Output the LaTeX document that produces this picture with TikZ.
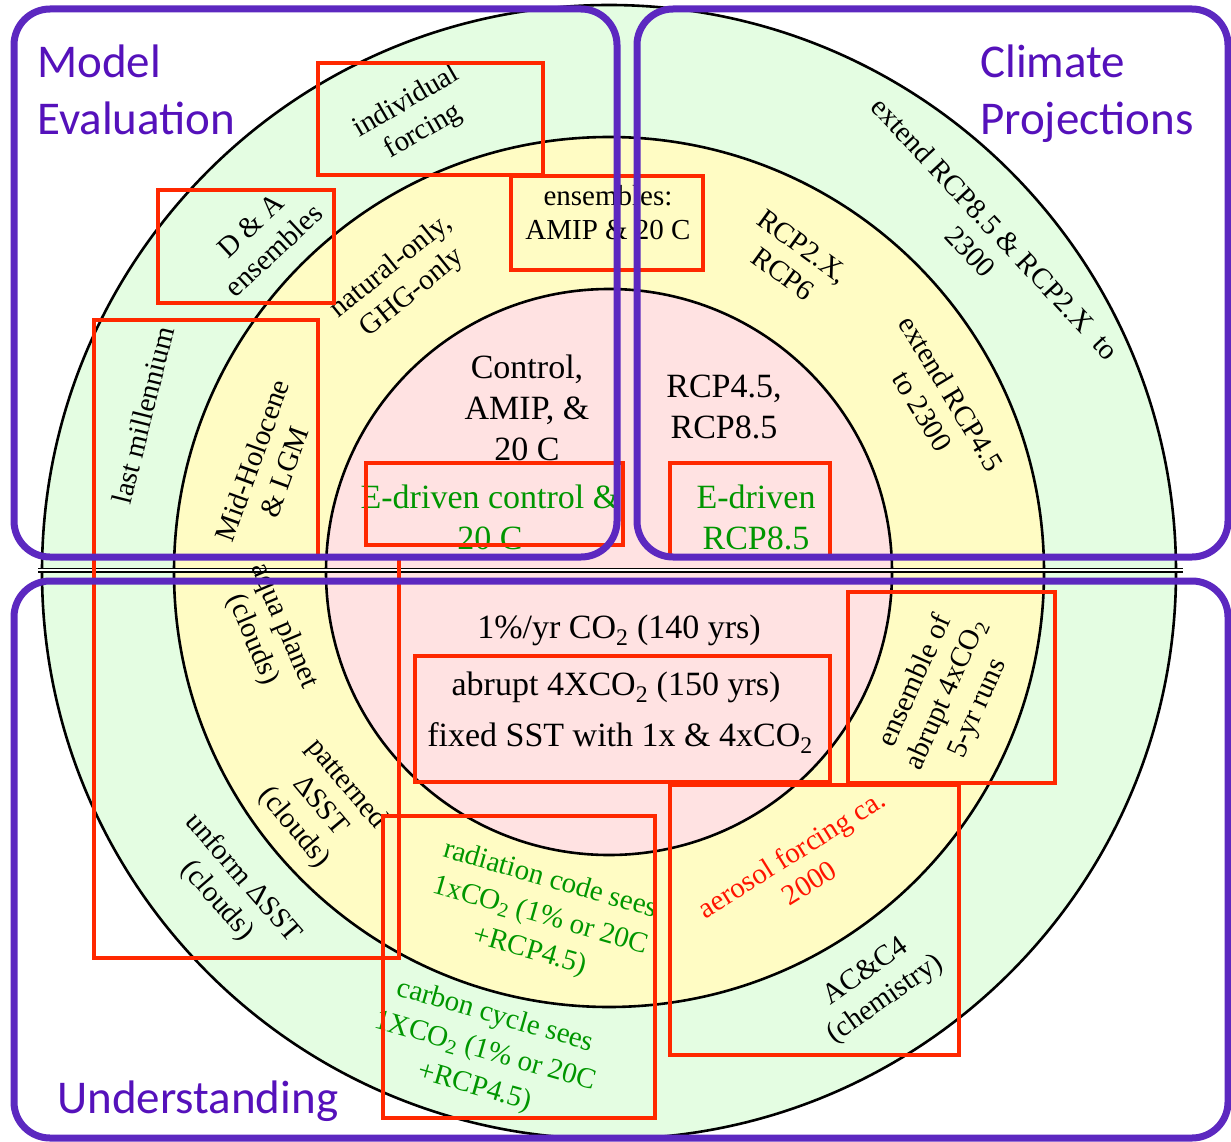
\documentclass[tikz,border=0pt]{standalone}
\usepackage{fontspec}
\setmainfont{Liberation Serif}
\newfontfamily\headingfont{Carlito}
\definecolor{ringgreen}{RGB}{228,253,226}
\definecolor{ringyellow}{RGB}{255,252,196}
\definecolor{ringpink}{RGB}{255,226,226}
\definecolor{framepurple}{RGB}{92,40,192}
\definecolor{labelpurple}{RGB}{85,17,187}
\definecolor{markred}{RGB}{255,40,0}
\definecolor{textgreen}{RGB}{0,150,0}
\definecolor{textred}{RGB}{255,20,0}
\begin{document}
\begin{tikzpicture}[x=1pt,y=-1pt,
  ring/.style={circle, draw=black, line width=2.6pt, inner sep=0pt},
  big/.style={font=\fontsize{34}{41}\selectfont, align=center, inner sep=0pt},
  mid/.style={font=\fontsize{29}{34}\selectfont, align=center, inner sep=0pt},
  grn/.style={font=\fontsize{29}{37}\selectfont, align=center, inner sep=0pt, text=textgreen},
  marker/.style={draw=markred, line width=4.8pt},
  panel/.style={draw=framepurple, line width=7pt, rounded corners=36pt},
  heading/.style={text=labelpurple, font=\headingfont\fontsize{47}{57}\selectfont,
                  align=left, inner sep=0pt, anchor=base west}
]
\useasboundingbox (0,0) rectangle (1231,1142);
\fill[white] (0,0) rectangle (1231,1142);

% concentric rings of experiment tiers
\node[ring, fill=ringgreen,  minimum size=1134pt] (outer)  at (609,572) {};
\node[ring, fill=ringyellow, minimum size=870pt]  (middle) at (609,572) {};
\node[ring, fill=ringpink,   minimum size=566pt]  (inner)  at (609,572) {};

% dividing line between upper and lower halves
\coordinate (divl) at (38,570);
\coordinate (divr) at (1183,570);
\draw[line width=1.4pt, double=white, double distance=2.2pt] (divl) -- (divr);

% outer ring
\node[mid, rotate=30]  (indiv)    at (415,117) {individual\\forcing};
\node[mid, rotate=43]  (da)       at (262,238) {D \& A\\ensembles};
\node[mid, rotate=-47] (ext85)    at (983,240) {extend RCP8.5 \& RCP2.X\ \ to\\2300};
\node[mid, rotate=76]  (lastmill) at (143,415) {last millennium};
\node[mid, rotate=-49] (unif)     at (230,890) {unform ΔSST\\(clouds)};
\node[grn, rotate=-16] (carbon)   at (485,1052) {carbon cycle sees\\1XCO\textsubscript{2} (1\% or 20C\\+RCP4.5)};
\node[mid, rotate=35]  (chem)     at (876,986) {AC\&C4\\(chemistry)};

% middle ring
\node[mid, rotate=39]  (natural)  at (402,280) {natural-only,\\GHG-only};
\node[mid]             (ensam)    at (608,213) {ensembles:\\AMIP \& 20 C};
\node[mid, rotate=-36] (rcp2x)    at (793,260) {RCP2.X,\\RCP6};
\node[mid, rotate=-59] (ext45)    at (937,402) {extend RCP4.5\\to 2300};
\node[mid, rotate=70]  (midhol)   at (268,466) {Mid-Holocene\\\& LGM};
\node[mid, rotate=-67] (aqua)     at (268,633) {aqua planet\\(clouds)};
\node[mid, rotate=-50] (patt)     at (320,806) {patterned\\ΔSST\\(clouds)};
\node[mid, rotate=66]  (ensab)    at (947,695) {ensemble of\\abrupt 4xCO\textsubscript{2}\\5-yr runs};
\node[grn, rotate=-16] (radcode)  at (540,916) {radiation code sees\\1xCO\textsubscript{2} (1\% or 20C\\+RCP4.5)};
\node[mid, rotate=32, text=textred] (aer) at (800,868) {aerosol forcing ca.\\2000};

% core
\node[big] (control) at (527,408) {Control,\\AMIP, \&\\20 C};
\node[big] (rcp45)   at (724,407) {RCP4.5,\\RCP8.5};
\node[big, text=textgreen] (edctrl) at (490,517) {E-driven control \&\\20 C};
\node[big, text=textgreen] (edrcp)  at (756,517) {E-driven\\RCP8.5};
\node[big] (onepct) at (619,630) {1\%/yr CO\textsubscript{2} (140 yrs)};
\node[big] (abrupt) at (616,687) {abrupt 4XCO\textsubscript{2} (150 yrs)};
\node[big] (fixed)  at (620,738) {fixed SST with 1x \& 4xCO\textsubscript{2}};

% red highlight boxes
\draw[marker] (318,63)  rectangle (543,175);
\draw[marker] (158,190) rectangle (334,303);
\draw[marker] (511,176) rectangle (703,270);
\draw[marker] (94,320)  rectangle (318,557);
\draw[marker] (94,557)  rectangle (399,958);
\draw[marker] (366,463) rectangle (623,545);
\draw[marker] (670,463) rectangle (830,556);
\draw[marker] (415,656) rectangle (830,782);
\draw[marker] (848,592) rectangle (1055,783);
\draw[marker] (383,816) rectangle (655,1118);
\draw[marker] (670,785) rectangle (959,1055);

% purple panels
\draw[panel] (14,9)   rectangle (617,557);
\draw[panel] (637,9)  rectangle (1228,557);
\draw[panel] (14,581) rectangle (1228,1138);

% panel headings (anchored on the baseline of the last line)
\node[heading] (evalhead) at (37,135)   {Model\\Evaluation};
\node[heading] (projhead) at (980,135)  {Climate\\Projections};
\node[heading] (undhead)  at (57,1113)  {Understanding};
\end{tikzpicture}
\end{document}
